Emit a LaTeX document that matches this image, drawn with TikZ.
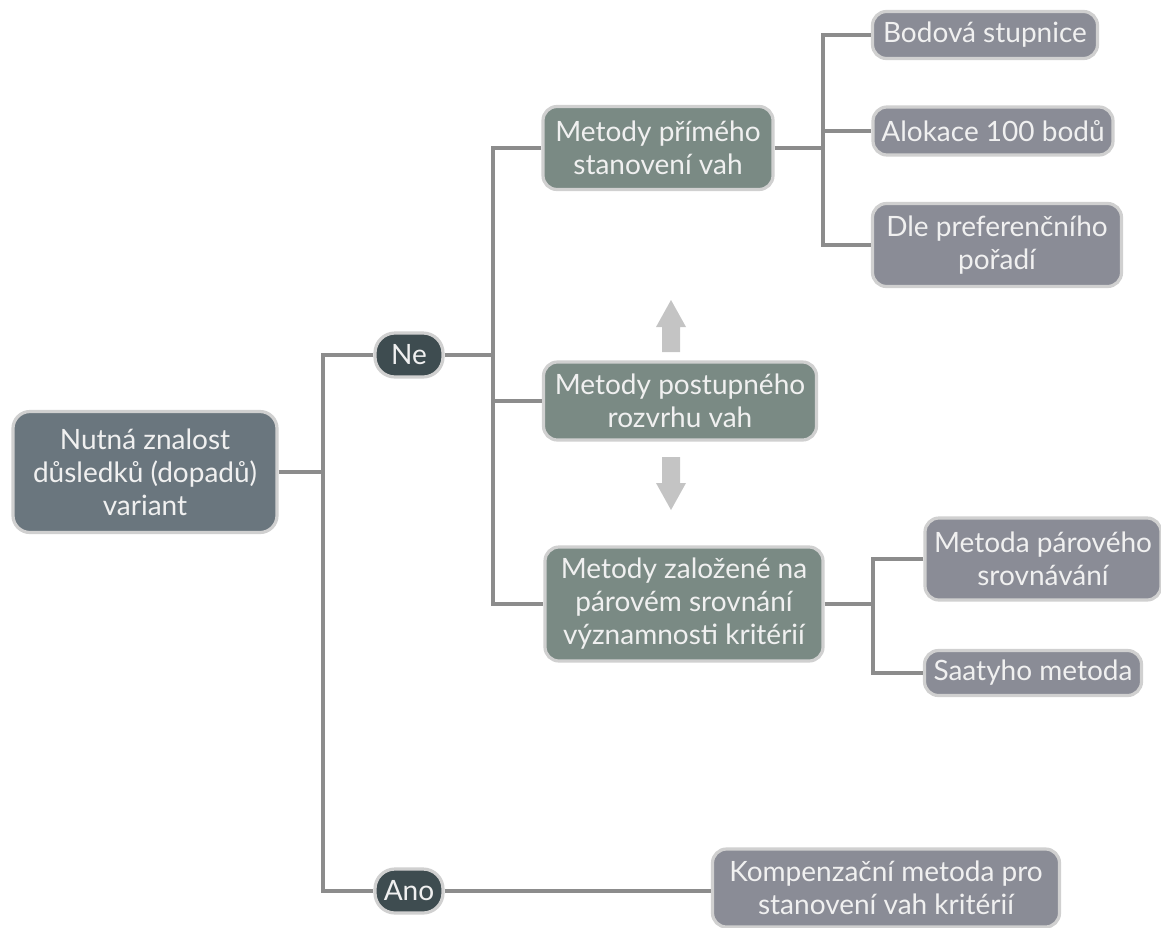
\documentclass[tikz,border=0pt]{standalone}
\usepackage{fontspec}
\setmainfont{Lato}
\definecolor{rootgray}{RGB}{106,118,126}
\definecolor{darkslate}{RGB}{62,76,80}
\definecolor{sagegray}{RGB}{122,138,132}
\definecolor{leafgray}{RGB}{138,140,150}
\definecolor{boxline}{RGB}{208,208,208}
\definecolor{linkgray}{RGB}{140,140,140}
\definecolor{arrowgray}{RGB}{196,196,196}
\begin{document}
\begin{tikzpicture}[x=0.5pt,y=-0.5pt,
  box/.style={draw=boxline,line width=1.6pt,rounded corners=7pt,inner sep=0pt,
    align=center,text=white!94!black,font=\fontsize{14}{16.5}\selectfont},
  rootbox/.style={box,fill=rootgray,rounded corners=8.5pt},
  answer/.style={box,fill=darkslate,rounded corners=10pt,minimum width=34pt,minimum height=22pt},
  method/.style={box,fill=sagegray},
  leaf/.style={box,fill=leafgray},
  link/.style={draw=linkgray,line width=1.6pt}]

\useasboundingbox (0,0) rectangle (1161,927);

\node[rootbox,minimum width=132pt,minimum height=60.5pt] (root) at (145,472) {Nutná znalost\\důsledků (dopadů)\\variant};

\node[answer] (ne) at (409,355) {Ne};
\node[answer] (ano) at (409,891) {Ano};

\node[method,minimum width=115pt,minimum height=41.5pt] (m1) at (658,148) {Metody přímého\\stanovení vah};
\node[method,minimum width=136.5pt,minimum height=39pt] (m2) at (680,401) {Metody postupného\\rozvrhu vah};
\node[method,minimum width=139pt,minimum height=57pt] (m3) at (684,604) {Metody založené na\\párovém srovnání\\významnosti kritérií};

\node[leaf,minimum width=112.5pt,minimum height=23.5pt] (l1) at (985,35) {Bodová stupnice};
\node[leaf,minimum width=120pt,minimum height=24pt] (l2) at (993,131) {Alokace 100 bodů};
\node[leaf,minimum width=124.5pt,minimum height=41.5pt] (l3) at (997,245) {Dle preferenčního\\pořadí};
\node[leaf,minimum width=118pt,minimum height=41pt] (l4) at (1043,559) {Metoda párového\\srovnávání};
\node[leaf,minimum width=108.5pt,minimum height=22.5pt] (l5) at (1033,673) {Saatyho metoda};
\node[leaf,minimum width=173.5pt,minimum height=39pt] (l6) at (886,888) {Kompenzační metoda pro\\stanovení vah kritérií};

\coordinate (t0) at (323,472);
\coordinate (t1) at (493,355);
\coordinate (t2) at (823,148);
\coordinate (t3) at (873,604);

\draw[link] (root) -- (t0);
\draw[link] (ne.west) -| (t0) |- (ano.west);
\draw[link] (ne.east) -- (t1);
\draw[link] (m1.west) -| (t1) |- (m3.west);
\draw[link] (t1) |- (m2.west);
\draw[link] (m1.east) -- (t2);
\draw[link] (l1.west) -| (t2) |- (l3.west);
\draw[link] (t2) |- (l2.west);
\draw[link] (m3.east) -- (t3);
\draw[link] (l4.west) -| (t3) |- (l5.west);
\draw[link] (ano.east) -- (ano.east -| l6.west);

% block arrows round the middle box
\fill[arrowgray] (662,352) -- (662,327) -- (656,327) -- (671,300) -- (686,327) -- (680,327) -- (680,352) -- cycle;
\fill[arrowgray] (662,457) -- (662,483) -- (656,483) -- (671,510) -- (686,483) -- (680,483) -- (680,457) -- cycle;
\end{tikzpicture}
\end{document}
